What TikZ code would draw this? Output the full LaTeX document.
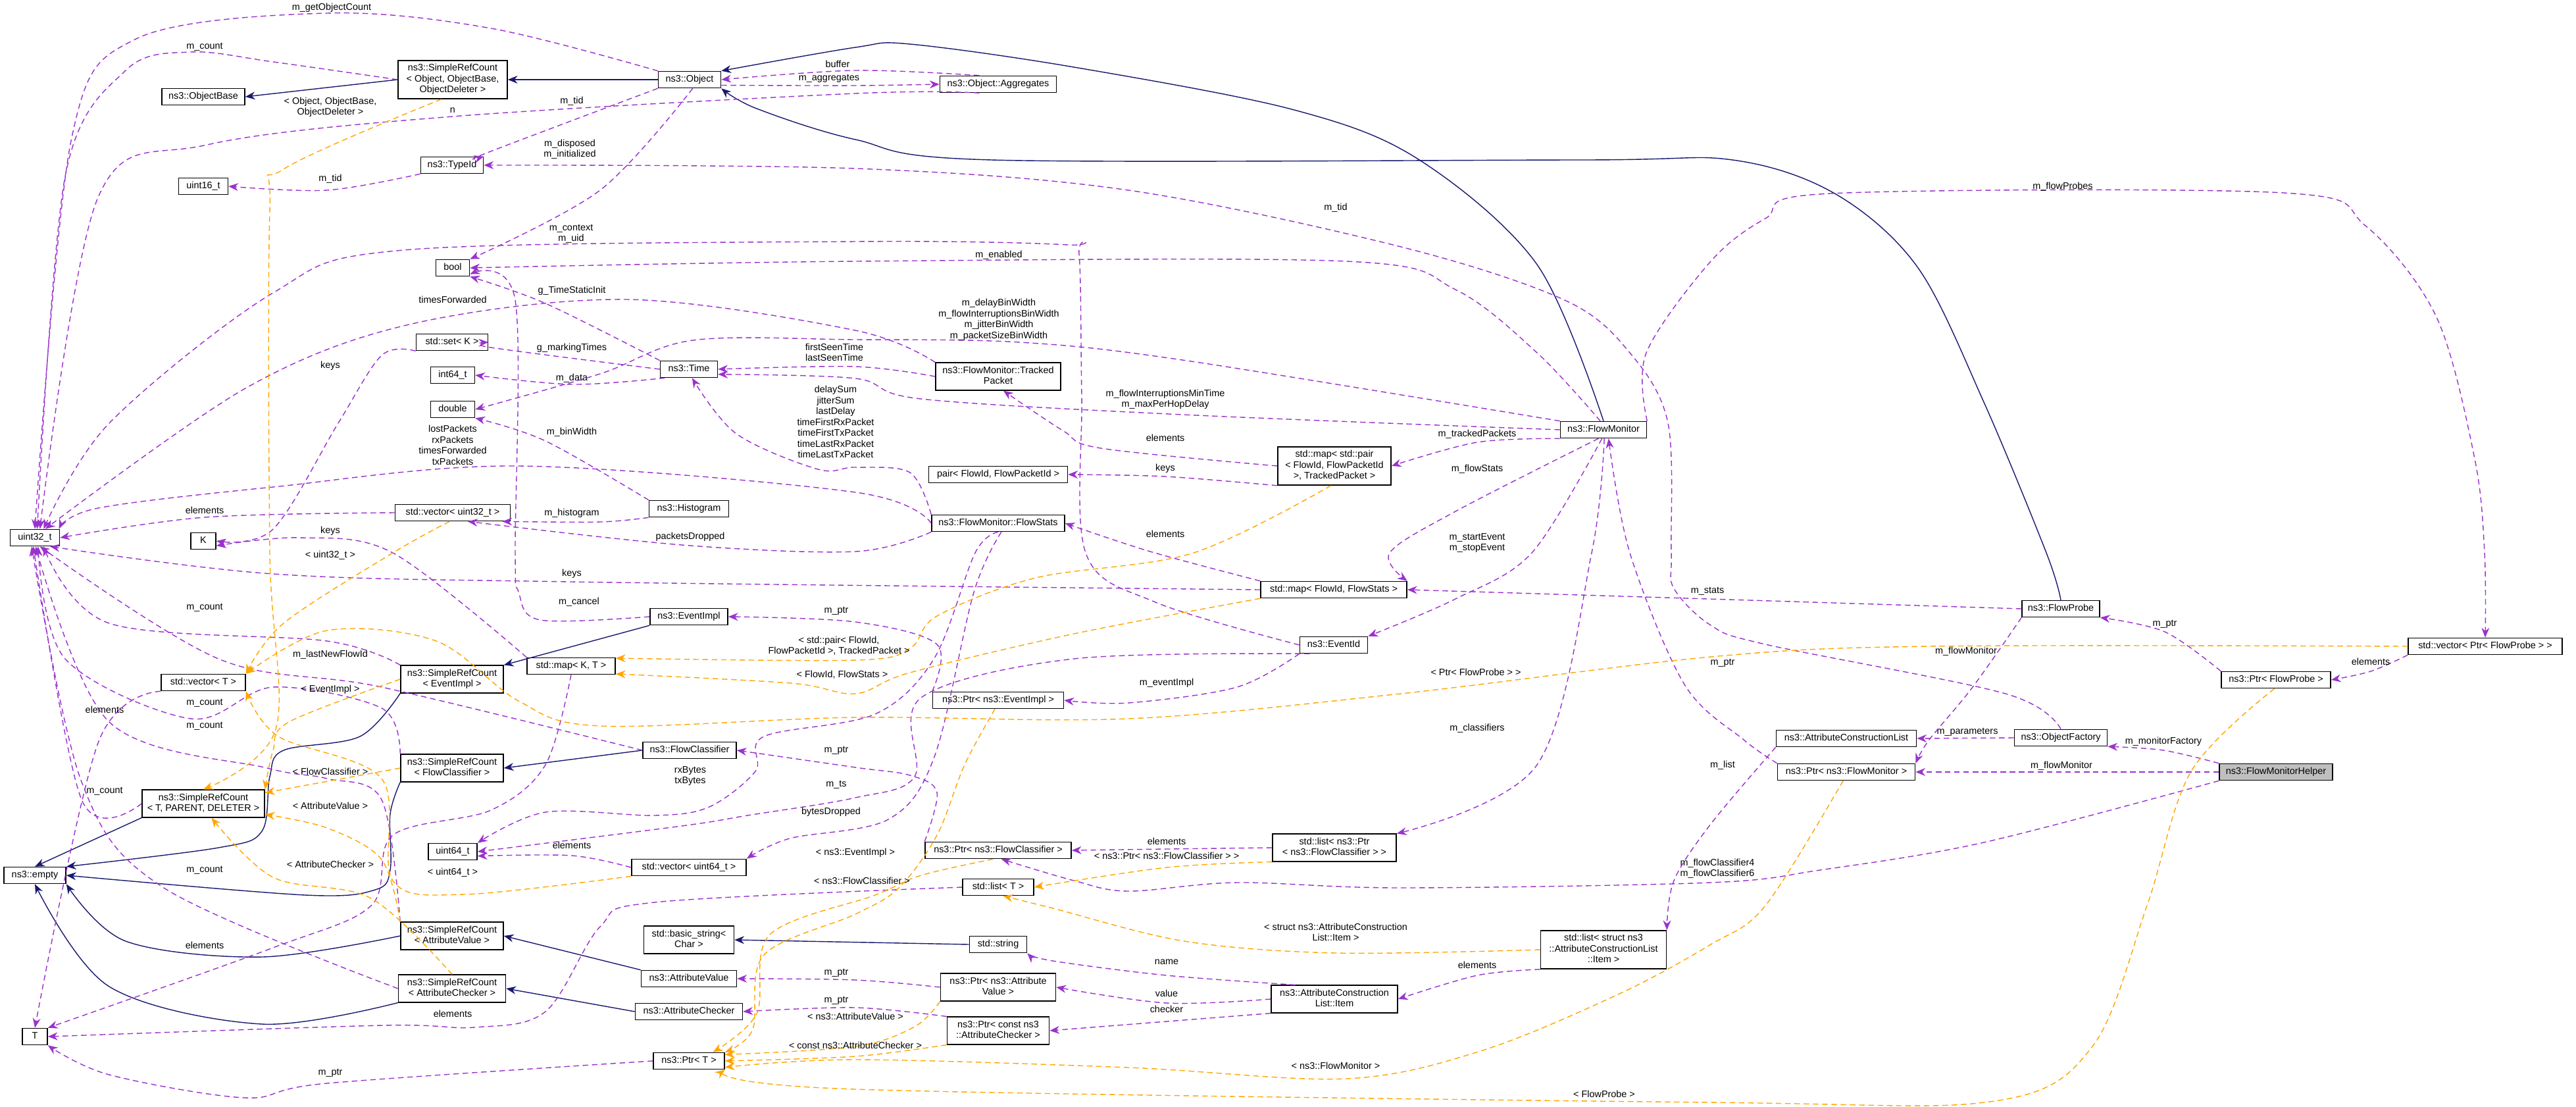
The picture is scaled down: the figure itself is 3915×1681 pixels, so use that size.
\documentclass[tikz,border=0pt]{standalone}
\usepackage{fontspec}
\setmainfont{Liberation Sans}
\usetikzlibrary{arrows.meta}
\definecolor{inhc}{HTML}{191970}
\definecolor{usec}{HTML}{9A32CD}
\definecolor{tplc}{HTML}{FFA500}
\tikzset{
 box/.style={draw=black,line width=0.45pt,fill=white,font=\fontsize{4.1}{4.7}\selectfont,minimum height=0.25cm,inner xsep=1pt,inner ysep=1.2pt},
 lbl/.style={font=\fontsize{4.1}{4.7}\selectfont,inner sep=0.5pt},
 tip/.style={-{Stealth[length=4.2pt,width=3.4pt]}},
 inh/.style={draw=inhc,line width=0.4pt,tip},
 use/.style={draw=usec,line width=0.4pt,dash pattern=on 2.4pt off 1.6pt,tip},
 tpl/.style={draw=tplc,line width=0.4pt,dash pattern=on 2.4pt off 1.6pt,tip},
}
\newcommand\Lq{\textless}
\newcommand\Rq{\textgreater}
\newcommand\MyLines[1]{\begin{tabular}{@{}c@{}}#1\end{tabular}}
\newcommand\NodeBox[4]{\node[box,minimum width=#3*0.01cm] (#1) at (#2) {\MyLines{#4}};}
\newcommand\EdgeLine[2]{\draw[#1] plot[smooth,tension=0.55] coordinates {#2};}
\newcommand\EdgeLabel[2]{\node[lbl] at (#1) {\MyLines{#2}};}
\begin{document}
\begin{tikzpicture}[x=0.01cm,y=-0.01cm]
\useasboundingbox (0,0) rectangle (3915,1681);
% ---------- inheritance ----------
\coordinate (dummy) at (0,0);
% nodes
\NodeBox{srcobj}{688,121}{166}{ns3::SimpleRefCount\\\Lq{} Object, ObjectBase,\\ ObjectDeleter \Rq}
\NodeBox{objbase}{309,147}{126}{ns3::ObjectBase}
\NodeBox{object}{1048,121}{95}{ns3::Object}
\NodeBox{aggr}{1517,128}{177}{ns3::Object::Aggregates}
\NodeBox{typeid}{687,251}{95}{ns3::TypeId}
\NodeBox{uint16}{309,283}{75}{uint16\_t}
\NodeBox{bool}{688,407}{51}{bool}
\NodeBox{setk}{687,520}{109}{std::set\Lq{} K \Rq}
\NodeBox{int64}{688,570}{67}{int64\_t}
\NodeBox{double}{688,622}{67}{double}
\NodeBox{time}{1047,561}{87}{ns3::Time}
\NodeBox{hist}{1047,773}{121}{ns3::Histogram}
\NodeBox{vecu32}{688,779}{175}{std::vector\Lq{} uint32\_t \Rq}
\NodeBox{uint32}{53,817}{75}{uint32\_t}
\NodeBox{K}{309,822}{38}{K}
\NodeBox{vecT}{309,1037}{128}{std::vector\Lq{} T \Rq}
\NodeBox{srcev}{687,1032}{156}{ns3::SimpleRefCount\\\Lq{} EventImpl \Rq}
\NodeBox{evimpl}{1047,937}{118}{ns3::EventImpl}
\NodeBox{mapKT}{868,1012}{134}{std::map\Lq{} K, T \Rq}
\NodeBox{fc}{1048,1140}{142}{ns3::FlowClassifier}
\NodeBox{srcfc}{687,1167}{156}{ns3::SimpleRefCount\\\Lq{} FlowClassifier \Rq}
\NodeBox{srctpd}{309,1221}{186}{ns3::SimpleRefCount\\\Lq{} T, PARENT, DELETER \Rq}
\NodeBox{uint64}{688,1294}{74}{uint64\_t}
\NodeBox{vecu64}{1047,1318}{174}{std::vector\Lq{} uint64\_t \Rq}
\NodeBox{empty}{53,1330}{94}{ns3::empty}
\NodeBox{srcav}{687,1422}{156}{ns3::SimpleRefCount\\\Lq{} AttributeValue \Rq}
\NodeBox{bstr}{1047,1428}{137}{std::basic\_string\Lq\\ Char \Rq}
\NodeBox{av}{1047,1487}{145}{ns3::AttributeValue}
\NodeBox{srcac}{687,1502}{163}{ns3::SimpleRefCount\\\Lq{} AttributeChecker \Rq}
\NodeBox{ac}{1047,1537}{163}{ns3::AttributeChecker}
\NodeBox{T}{53,1575}{38}{T}
\NodeBox{ptrT}{1047,1612}{108}{ns3::Ptr\Lq{} T \Rq}
\NodeBox{tp}{1517,572}{190}{ns3::FlowMonitor::Tracked\\Packet}
\NodeBox{fm}{2437,653}{131}{ns3::FlowMonitor}
\NodeBox{mappair}{2028,708}{172}{std::map\Lq{} std::pair\\\Lq{} FlowId, FlowPacketId\\ \Rq, TrackedPacket \Rq}
\NodeBox{pair}{1517,721}{211}{pair\Lq{} FlowId, FlowPacketId \Rq}
\NodeBox{fs}{1517,795}{202}{ns3::FlowMonitor::FlowStats}
\NodeBox{mapfs}{2027,896}{222}{std::map\Lq{} FlowId, FlowStats \Rq}
\NodeBox{evid}{2027,980}{103}{ns3::EventId}
\NodeBox{ptrev}{1517,1064}{199}{ns3::Ptr\Lq{} ns3::EventImpl \Rq}
\NodeBox{ptrfc}{1517,1292}{222}{ns3::Ptr\Lq{} ns3::FlowClassifier \Rq}
\NodeBox{listpfc}{2028,1288}{188}{std::list\Lq{} ns3::Ptr\\\Lq{} ns3::FlowClassifier \Rq{} \Rq}
\NodeBox{listT}{1517,1348}{108}{std::list\Lq{} T \Rq}
\NodeBox{string}{1517,1435}{87}{std::string}
\NodeBox{ptrav}{1517,1500}{175}{ns3::Ptr\Lq{} ns3::Attribute\\Value \Rq}
\NodeBox{ptrac}{1517,1566}{155}{ns3::Ptr\Lq{} const ns3\\::AttributeChecker \Rq}
\NodeBox{item}{2028,1518}{192}{ns3::AttributeConstruction\\List::Item}
\NodeBox{listitem}{2437,1443}{191}{std::list\Lq{} struct ns3\\::AttributeConstructionList\\::Item \Rq}
\NodeBox{fp}{3132,925}{118}{ns3::FlowProbe}
\NodeBox{vecpfp}{3777,982}{234}{std::vector\Lq{} Ptr\Lq{} FlowProbe \Rq{} \Rq}
\NodeBox{ptrfp}{3459,1033}{166}{ns3::Ptr\Lq{} FlowProbe \Rq}
\NodeBox{acl}{2806,1122}{213}{ns3::AttributeConstructionList}
\NodeBox{of}{3132,1121}{141}{ns3::ObjectFactory}
\NodeBox{ptrfm}{2806,1173}{209}{ns3::Ptr\Lq{} ns3::FlowMonitor \Rq}
\node[box,fill=black!25,minimum width=172*0.01cm] (fmh) at (3459,1173) {ns3::FlowMonitorHelper};
% ---------- inheritance ----------
\EdgeLine{inh}{(srcobj.west) (objbase.east)}
\EdgeLine{inh}{(object.west) (srcobj.east)}
\EdgeLine{inh}{(fm.north) (2336,402) (2154,241) (1963,166) (1632,102) (1383,67) (1300,72) (object.north east)}
\EdgeLine{inh}{(fp.north) (3110,840) (3015,611) (2915,407) (2790,295) (2633,243) (2400,243) (1507,243) (1300,212) (1150,165) (object.south east)}
\EdgeLine{inh}{(srcev.south west) (547,1119) (431,1140) (410,1180) (398,1263) (332,1288) (empty.north east)}
\EdgeLine{inh}{(evimpl.south west) (srcev.north east)}
\EdgeLine{inh}{(srcfc.south west) (593,1237) (593,1322) (570,1352) (464,1360) (empty.east)}
\EdgeLine{inh}{(fc.west) (srcfc.east)}
\EdgeLine{inh}{(srctpd.south west) (empty.north)}
\EdgeLine{inh}{(srcav.west) (398,1454) (191,1430) (empty.south east)}
\EdgeLine{inh}{(av.north west) (srcav.east)}
\EdgeLine{inh}{(srcac.south west) (398,1556) (166,1499) (empty.south)}
\EdgeLine{inh}{(ac.west) (srcac.east)}
\EdgeLine{inh}{(string.west) (bstr.east)}
% ---------- usage ----------
\EdgeLine{use}{(object.north west) (746,43) (497,20) (207,59) (108,214) (uint32.north)}
\EdgeLabel{504,12}{m\_getObjectCount}
\EdgeLine{use}{(srcobj.west) (415,94) (290,79) (191,107) (99,268) (uint32.75)}
\EdgeLabel{311,71}{m\_count}
\EdgeLine{use}{(aggr.155) (1300,107) (object.east)}
\EdgeLabel{1273,99}{buffer}
\EdgeLine{use}{(object.-10) (1300,130) (aggr.west)}
\EdgeLabel{1260,119}{m\_aggregates}
\EdgeLine{use}{(aggr.205) (1300,142) (688,177) (315,220) (149,300) (uint32.60)}
\EdgeLabel{688,168}{n}
\EdgeLine{use}{(object.south west) (738,233) (typeid.north east)}
\EdgeLabel{869,154}{m\_tid}
\EdgeLine{use}{(object.-70) (912,289) (bool.north east)}
\EdgeLabel{866,227}{m\_disposed\\m\_initialized}
\EdgeLine{use}{(typeid.south west) (497,289) (uint16.east)}
\EdgeLabel{502,272}{m\_tid}
\EdgeLine{use}{(of.north) (3048,1054) (2683,979) (2600,950) (2544,894) (2540,840) (2535,643) (2477,536) (2378,456) (2129,375) (1715,289) (1300,256) (typeid.east)}
\EdgeLabel{2030,316}{m\_tid}
\EdgeLine{use}{(fm.110) (2336,536) (2212,440) (2046,397) (1300,397) (bool.east)}
\EdgeLabel{1518,388}{m\_enabled}
\EdgeLine{use}{(evid.west) (1756,915) (1650,840) (1644,600) (1640,386) (1623,372) (1300,367) (613,380) (415,445) (166,643) (uint32.45)}
\EdgeLabel{868,355}{m\_context\\m\_uid}
\EdgeLine{use}{(time.north west) (829,461) (bool.south east)}
\EdgeLabel{869,442}{g\_TimeStaticInit}
\EdgeLine{use}{(tp.north west) (1300,502) (953,455) (622,493) (373,590) (uint32.40)}
\EdgeLabel{688,457}{timesForwarded}
\EdgeLine{use}{(time.west) (746,528) (setk.east)}
\EdgeLabel{869,529}{g\_markingTimes}
\EdgeLine{use}{(time.200) (870,584) (int64.east)}
\EdgeLabel{869,575}{m\_data}
\EdgeLine{use}{(tp.west) (1300,557) (time.east)}
\EdgeLabel{1268,537}{firstSeenTime\\lastSeenTime}
\EdgeLine{use}{(fm.north west) (1797,547) (1549,520) (1300,516) (1053,517) (912,568) (double.east)}
\EdgeLabel{1518,486}{m\_delayBinWidth\\m\_flowInterruptionsBinWidth\\m\_jitterBinWidth\\m\_packetSizeBinWidth}
\EdgeLine{use}{(fm.west) (1797,630) (1399,606) (1300,575) (time.-10)}
\EdgeLabel{1771,607}{m\_flowInterruptionsMinTime\\m\_maxPerHopDelay}
\EdgeLine{use}{(fs.north west) (1383,718) (1300,710) (1243,713) (1119,659) (time.-70)}
\EdgeLabel{1270,643}{delaySum\\jitterSum\\lastDelay\\timeFirstRxPacket\\timeFirstTxPacket\\timeLastRxPacket\\timeLastTxPacket}
\EdgeLine{use}{(hist.north west) (829,670) (double.south east)}
\EdgeLabel{869,657}{m\_binWidth}
\EdgeLine{use}{(fs.west) (1300,748) (788,708) (415,740) (149,772) (uint32.20)}
\EdgeLabel{688,678}{lostPackets\\rxPackets\\timesForwarded\\txPackets}
\EdgeLine{use}{(hist.south west) (912,793) (vecu32.-10)}
\EdgeLabel{869,780}{m\_histogram}
\EdgeLine{use}{(fs.south west) (1300,838) (1036,828) (vecu32.-30)}
\EdgeLabel{1049,816}{packetsDropped}
\EdgeLine{use}{(vecu32.west) (311,786) (uint32.east)}
\EdgeLabel{311,777}{elements}
\EdgeLine{use}{(setk.south west) (580,540) (514,643) (415,804) (K.east)}
\EdgeLabel{502,556}{keys}
\EdgeLine{use}{(mapKT.north west) (597,840) (456,817) (K.-20)}
\EdgeLabel{502,807}{keys}
\EdgeLine{use}{(mapfs.west) (869,884) (415,872) (uint32.-30)}
\EdgeLabel{869,872}{keys}
\EdgeLine{use}{(srcev.north west) (497,974) (166,947) (uint32.-45)}
\EdgeLabel{311,923}{m\_count}
\EdgeLine{use}{(fc.west) (580,1044) (332,1001) (uint32.-60)}
\EdgeLabel{502,995}{m\_lastNewFlowId}
\EdgeLine{use}{(srcfc.north west) (580,1076) (415,1044) (290,1092) (99,1001) (uint32.-70)}
\EdgeLabel{311,1068}{m\_count}
\EdgeLine{use}{(srctpd.west) (124,1215) (uint32.-100)}
\EdgeLabel{159,1202}{m\_count}
\EdgeLine{use}{(srcav.north west) (580,1215) (497,1183) (406,1167) (166,1097) (uint32.-85)}
\EdgeLabel{311,1103}{m\_count}
\EdgeLine{use}{(srcac.west) (249,1349) (124,1188) (uint32.-110)}
\EdgeLabel{311,1322}{m\_count}
\EdgeLine{use}{(vecT.south west) (149,1129) (T.north)}
\EdgeLabel{159,1080}{elements}
\EdgeLine{use}{(mapKT.south) (829,1162) (746,1231) (597,1269) (564,1376) (415,1440) (T.north east)}
\EdgeLabel{311,1438}{elements}
\EdgeLine{use}{(listT.west) (995,1371) (912,1408) (829,1537) (721,1561) (580,1558) (T.east)}
\EdgeLabel{688,1542}{elements}
\EdgeLine{use}{(ptrT.west) (497,1646) (373,1668) (166,1633) (T.south east)}
\EdgeLabel{502,1630}{m\_ptr}
\EdgeLine{use}{(evimpl.west) (821,942) (788,899) (783,840) (783,456) (bool.-20)}
\EdgeLabel{880,915}{m\_cancel}
\EdgeLine{use}{(ptrev.north west) (1424,979) (1300,945) (evimpl.east)}
\EdgeLabel{1271,928}{m\_ptr}
\EdgeLine{use}{(ptrfc.north west) (1424,1204) (1383,1178) (1300,1166) (fc.east)}
\EdgeLabel{1271,1140}{m\_ptr}
\EdgeLine{use}{(fs.south) (1482,840) (1420,1000) (1330,1085) (1161,1119) (1148,1172) (1078,1226) (995,1239) (829,1234) (uint64.north east)}
\EdgeLabel{1049,1179}{rxBytes\\txBytes}
\EdgeLine{use}{(evid.200) (1632,1001) (1400,1060) (1390,1180) (1300,1212) (1136,1239) (1036,1255) (uint64.east)}
\EdgeLabel{1271,1192}{m\_ts}
\EdgeLine{use}{(fs.-70) (1480,900) (1420,1150) (1350,1245) (1200,1274) (vecu64.north east)}
\EdgeLabel{1263,1234}{bytesDropped}
\EdgeLine{use}{(vecu64.west) (869,1300) (uint64.-10)}
\EdgeLabel{869,1286}{elements}
\EdgeLine{use}{(ptrav.west) (1300,1489) (av.east)}
\EdgeLabel{1271,1478}{m\_ptr}
\EdgeLine{use}{(ptrac.north west) (1300,1531) (ac.east)}
\EdgeLabel{1271,1520}{m\_ptr}
\EdgeLine{use}{(fm.south west) (2245,672) (mappair.east)}
\EdgeLabel{2245,660}{m\_trackedPackets}
\EdgeLine{use}{(mappair.west) (1673,681) (1615,654) (tp.-70)}
\EdgeLabel{1771,667}{elements}
\EdgeLine{use}{(mappair.south west) (1771,724) (pair.east)}
\EdgeLabel{1771,712}{keys}
\EdgeLine{use}{(mapfs.north west) (1748,838) (fs.east)}
\EdgeLabel{1771,813}{elements}
\EdgeLine{use}{(fm.-120) (2212,777) (2112,840) (mapfs.north east)}
\EdgeLabel{2245,713}{m\_flowStats}
\EdgeLine{use}{(fm.-100) (2328,840) (2212,910) (evid.north east)}
\EdgeLabel{2245,825}{m\_startEvent\\m\_stopEvent}
\EdgeLine{use}{(fm.-85) (2419,840) (2336,1162) (listpfc.north east)}
\EdgeLabel{2245,1107}{m\_classifiers}
\EdgeLine{use}{(fp.west) (2595,910) (mapfs.east)}
\EdgeLabel{2595,898}{m\_stats}
\EdgeLine{use}{(evid.south west) (1880,1044) (1715,1068) (ptrev.east)}
\EdgeLabel{1773,1038}{m\_eventImpl}
\EdgeLine{use}{(listpfc.west) (1773,1290) (ptrfc.east)}
\EdgeLabel{1773,1280}{elements}
\EdgeLine{use}{(fmh.south west) (3015,1280) (2766,1322) (2600,1341) (2129,1349) (1880,1341) (1715,1354) (1632,1338) (ptrfc.-70)}
\EdgeLabel{2610,1320}{m\_flowClassifier4\\m\_flowClassifier6}
\EdgeLine{use}{(item.160) (1773,1482) (1600,1460) (string.south east)}
\EdgeLabel{1773,1462}{name}
\EdgeLine{use}{(item.west) (1773,1524) (ptrav.east)}
\EdgeLabel{1773,1511}{value}
\EdgeLine{use}{(item.south west) (1773,1552) (ptrac.east)}
\EdgeLabel{1773,1535}{checker}
\EdgeLine{use}{(listitem.south west) (2245,1482) (item.east)}
\EdgeLabel{2245,1468}{elements}
\EdgeLine{use}{(acl.south west) (2600,1252) (2544,1338) (listitem.north east)}
\EdgeLabel{2618,1163}{m\_list}
\EdgeLine{use}{(of.west) (acl.east)}
\EdgeLabel{2990,1112}{m\_parameters}
\EdgeLine{use}{(fmh.north west) (3288,1140) (of.south east)}
\EdgeLabel{3288,1127}{m\_monitorFactory}
\EdgeLine{use}{(fmh.west) (ptrfm.east)}
\EdgeLabel{3133,1164}{m\_flowMonitor}
\EdgeLine{use}{(fp.south west) (2998,1044) (2932,1124) (ptrfm.north east)}
\EdgeLabel{2988,990}{m\_flowMonitor}
\EdgeLine{use}{(ptrfm.north west) (2650,1124) (2560,1040) (2477,840) (fm.-60)}
\EdgeLabel{2618,1007}{m\_ptr}
\EdgeLine{use}{(ptrfp.north west) (3290,960) (fp.south east)}
\EdgeLabel{3290,948}{m\_ptr}
\EdgeLine{use}{(vecpfp.south west) (3603,1020) (ptrfp.east)}
\EdgeLabel{3603,1007}{elements}
\EdgeLine{use}{(fm.north east) (2502,536) (2600,397) (2683,332) (2782,294) (3470,293) (3595,343) (3703,482) (3761,697) (3776,840) (vecpfp.north)}
\EdgeLabel{3135,284}{m\_flowProbes}
% ---------- templates ----------
\EdgeLine{tpl}{(srcobj.-120) (431,257) (410,322) (410,840) (419,1108) (srctpd.north)}
\EdgeLabel{502,163}{\Lq{} Object, ObjectBase,\\ObjectDeleter \Rq}
\EdgeLine{tpl}{(vecu32.-110) (597,840) (431,947) (vecT.north east)}
\EdgeLabel{502,844}{\Lq{} uint32\_t \Rq}
\EdgeLine{tpl}{(srcev.west) (439,1097) (415,1140) (srctpd.north east)}
\EdgeLabel{502,1048}{\Lq{} EventImpl \Rq}
\EdgeLine{tpl}{(srcfc.west) (srctpd.10)}
\EdgeLabel{502,1174}{\Lq{} FlowClassifier \Rq}
\EdgeLine{tpl}{(srcav.north west) (580,1306) (497,1258) (srctpd.-10)}
\EdgeLabel{502,1226}{\Lq{} AttributeValue \Rq}
\EdgeLine{tpl}{(srcac.north) (564,1365) (415,1333) (srctpd.-60)}
\EdgeLabel{502,1315}{\Lq{} AttributeChecker \Rq}
\EdgeLine{tpl}{(vecu64.south west) (705,1359) (597,1338) (580,1183) (423,1119) (vecT.south east)}
\EdgeLabel{688,1326}{\Lq{} uint64\_t \Rq}
\EdgeLine{tpl}{(mappair.-100) (1814,840) (1574,878) (1424,936) (1383,985) (1300,1003) (mapKT.10)}
\EdgeLabel{1275,982}{\Lq{} std::pair\Lq{} FlowId,\\FlowPacketId \Rq, TrackedPacket \Rq}
\EdgeLine{tpl}{(mapfs.south west) (1632,963) (1383,1022) (1300,1054) (1202,1038) (mapKT.-10)}
\EdgeLabel{1280,1026}{\Lq{} FlowId, FlowStats \Rq}
\EdgeLine{tpl}{(vecpfp.west) (2932,982) (2600,998) (2129,1054) (1715,1092) (1300,1090) (912,1103) (788,1065) (663,974) (497,958) (vecT.north east)}
\EdgeLabel{2243,1023}{\Lq{} Ptr\Lq{} FlowProbe \Rq{} \Rq}
\EdgeLine{tpl}{(ptrev.-110) (1466,1162) (1424,1269) (1366,1349) (1300,1389) (1161,1451) (1144,1564) (ptrT.north east)}
\EdgeLabel{1300,1296}{\Lq{} ns3::EventImpl \Rq}
\EdgeLine{tpl}{(ptrfc.-120) (1400,1330) (1330,1360) (1170,1420) (1150,1540) (ptrT.20)}
\EdgeLabel{1310,1340}{\Lq{} ns3::FlowClassifier \Rq}
\EdgeLine{tpl}{(listpfc.south west) (1773,1318) (listT.east)}
\EdgeLabel{1773,1302}{\Lq{} ns3::Ptr\Lq{} ns3::FlowClassifier \Rq{} \Rq}
\EdgeLine{tpl}{(listitem.west) (2030,1448) (1800,1430) (1600,1380) (listT.-60)}
\EdgeLabel{2030,1418}{\Lq{} struct ns3::AttributeConstruction\\List::Item \Rq}
\EdgeLine{tpl}{(ptrav.south west) (1390,1560) (1300,1590) (ptrT.10)}
\EdgeLabel{1300,1546}{\Lq{} ns3::AttributeValue \Rq}
\EdgeLine{tpl}{(ptrac.south west) (1300,1605) (ptrT.east)}
\EdgeLabel{1300,1590}{\Lq{} const ns3::AttributeChecker \Rq}
\EdgeLine{tpl}{(ptrfm.-110) (2683,1376) (2600,1435) (2461,1510) (2253,1596) (2046,1639) (1715,1622) (1300,1610) (ptrT.-10)}
\EdgeLabel{2030,1621}{\Lq{} ns3::FlowMonitor \Rq}
\EdgeLine{tpl}{(ptrfp.-100) (3330,1172) (3263,1376) (3180,1590) (3031,1673) (2600,1675) (1300,1655) (ptrT.south east)}
\EdgeLabel{2438,1664}{\Lq{} FlowProbe \Rq}
\end{tikzpicture}
\end{document}
